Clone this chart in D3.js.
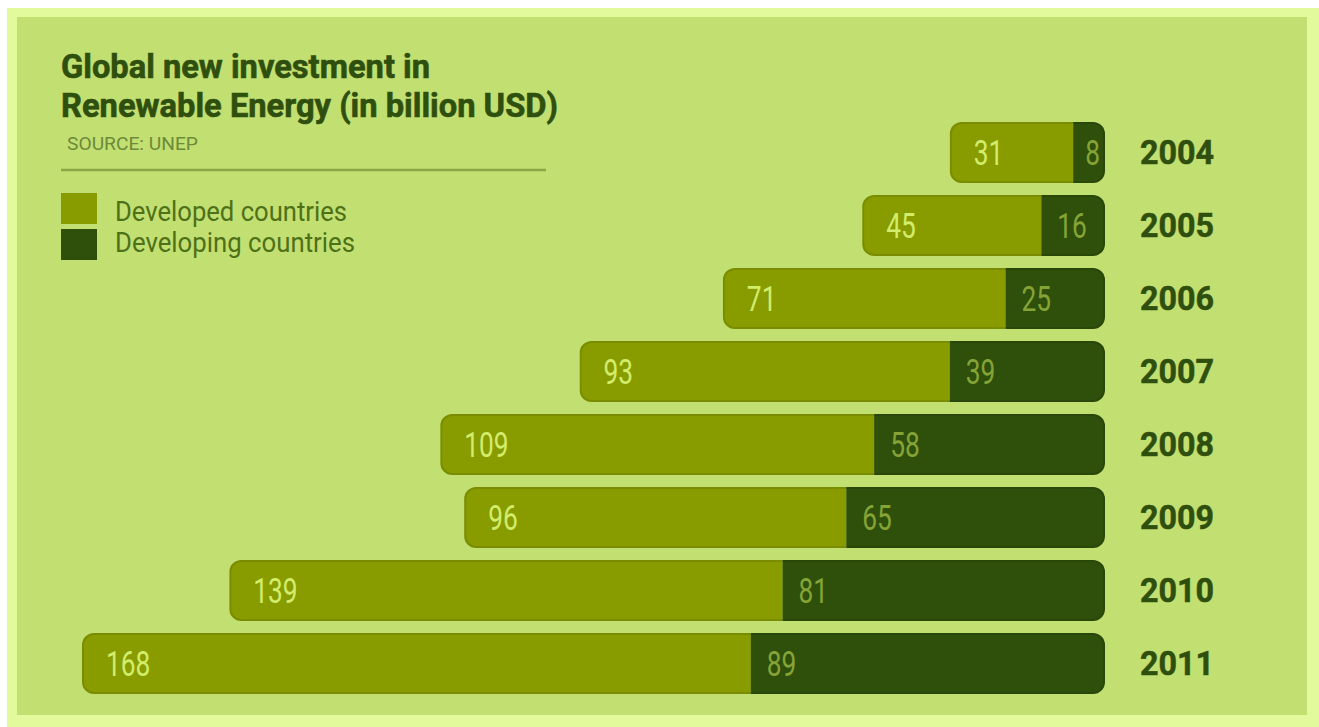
<!DOCTYPE html>
<html>
<head>
<meta charset="utf-8">
<script src="https://cdn.jsdelivr.net/npm/d3@7"></script>
<style>
  html, body { margin: 0; padding: 0; background: #ffffff; }
  svg { display: block; }
</style>
</head>
<body>
<svg id="chart" width="1319" height="727"></svg>
<script>
// Global new investment in renewable energy, billion USD (UNEP)
const years = ["2004", "2005", "2006", "2007", "2008", "2009", "2010", "2011"];
const developed = [31, 45, 71, 93, 109, 96, 139, 168];
const developing = [8, 16, 25, 39, 58, 65, 81, 89];
const seriesNames = ["Developed countries", "Developing countries"];
const titleLines = ["Global new investment in", "Renewable Energy (in billion USD)"];
const sourceText = "SOURCE: UNEP";

const W = 1319, H = 727;
const FONT = "Roboto, 'Liberation Sans Narrow', 'DejaVu Sans Condensed', sans-serif";
const colors = {
  outer: "#e2f99c",
  panel: "#c2df72",
  developed: "#889c00",
  developing: "#2e500b",
  devLabel: "#d2ec6c",
  dvgLabel: "#86a336",
  title: "#2f4f0e",
  legendText: "#4e7117",
  source: "#6d8a38",
  rule: "#8ba645"
};

const svg = d3.select("#chart");

// frame: pale border band and the main panel
svg.append("rect").attr("x", 7).attr("y", 8).attr("width", W - 7).attr("height", H - 8)
  .attr("fill", colors.outer);
svg.append("rect").attr("x", 17).attr("y", 17).attr("width", 1290).attr("height", 698)
  .attr("fill", colors.panel);

// squeeze text horizontally to a given width
function fit(sel, width) {
  sel.attr("textLength", width).attr("lengthAdjust", "spacingAndGlyphs");
  return sel;
}

// title block
const titleG = svg.append("g");
const titleBase = [78, 117];
const titleWidths = [369, 497];
titleLines.forEach((t, i) => {
  fit(titleG.append("text")
    .attr("x", 61).attr("y", titleBase[i])
    .attr("font-family", FONT).attr("font-weight", "bold")
    .attr("font-size", 33).attr("fill", colors.title)
    .attr("stroke", colors.title).attr("stroke-width", 0.6)
    .text(t), titleWidths[i]);
});
fit(titleG.append("text")
  .attr("x", 67).attr("y", 150)
  .attr("font-family", FONT).attr("font-size", 18)
  .attr("fill", colors.source)
  .text(sourceText), 131);
titleG.append("line")
  .attr("x1", 61).attr("x2", 546).attr("y1", 170).attr("y2", 170)
  .attr("stroke", colors.rule).attr("stroke-width", 2.5);

// legend
const legend = svg.append("g");
const legendColors = [colors.developed, colors.developing];
const legendTextW = [232, 240];
seriesNames.forEach((name, i) => {
  legend.append("rect")
    .attr("x", 61).attr("y", 193 + i * 36)
    .attr("width", 36).attr("height", 31)
    .attr("fill", legendColors[i]);
  fit(legend.append("text")
    .attr("x", 115).attr("y", 221 + i * 31)
    .attr("font-family", FONT).attr("font-size", 28)
    .attr("fill", colors.legendText)
    .text(name), legendTextW[i]);
});

// scales
const rows = years.map((y, i) => ({
  year: y, dev: developed[i], dvg: developing[i], total: developed[i] + developing[i]
}));
const rightEdge = 1105;
const maxTotal = d3.max(rows, d => d.total);
const w = d3.scaleLinear().domain([0, maxTotal]).range([0, 1023]);
const y = d3.scaleBand().domain(years).range([116, 700]).paddingInner(0.164).paddingOuter(0.082);
const bh = y.bandwidth();
const radius = 12;

const defs = svg.append("defs");
const bars = svg.append("g").selectAll("g").data(rows).join("g")
  .attr("transform", d => `translate(0,${y(d.year)})`);

bars.each(function (d) {
  const g = d3.select(this);
  const left = rightEdge - w(d.total);
  const split = rightEdge - w(d.dvg);
  const id = "clip-" + d.year;
  defs.append("clipPath").attr("id", id)
    .append("rect").attr("x", left).attr("y", 0)
    .attr("width", w(d.total)).attr("height", bh)
    .attr("rx", radius).attr("ry", radius);
  const inner = g.append("g").attr("clip-path", `url(#${id})`);
  inner.append("rect").attr("x", left).attr("y", 0)
    .attr("width", split - left).attr("height", bh)
    .attr("fill", colors.developed);
  inner.append("rect").attr("x", split).attr("y", 0)
    .attr("width", rightEdge - split).attr("height", bh)
    .attr("fill", colors.developing);
  // thin darker rim along the bar outline
  inner.append("rect").attr("x", left).attr("y", 0)
    .attr("width", w(d.total)).attr("height", bh)
    .attr("rx", radius).attr("ry", radius)
    .attr("fill", "none").attr("stroke", "#000").attr("stroke-opacity", 0.1)
    .attr("stroke-width", 4);

  const digitW = 14.8;
  fit(g.append("text")
    .attr("x", left + 24).attr("y", bh / 2 + 12.5)
    .attr("font-family", FONT).attr("font-size", 35)
    .attr("fill", colors.devLabel)
    .text(d.dev), String(d.dev).length * digitW);
  fit(g.append("text")
    .attr("x", split + (d.dvg < 10 ? 12 : 16)).attr("y", bh / 2 + 12.5)
    .attr("font-family", FONT).attr("font-size", 35)
    .attr("fill", colors.dvgLabel)
    .text(d.dvg), String(d.dvg).length * digitW);

  // year label
  fit(g.append("text")
    .attr("x", 1140).attr("y", bh / 2 + 12)
    .attr("font-family", FONT).attr("font-weight", "bold")
    .attr("font-size", 33).attr("fill", colors.title)
    .attr("stroke", colors.title).attr("stroke-width", 0.5)
    .text(d.year), 74);
});
</script>
</body>
</html>
